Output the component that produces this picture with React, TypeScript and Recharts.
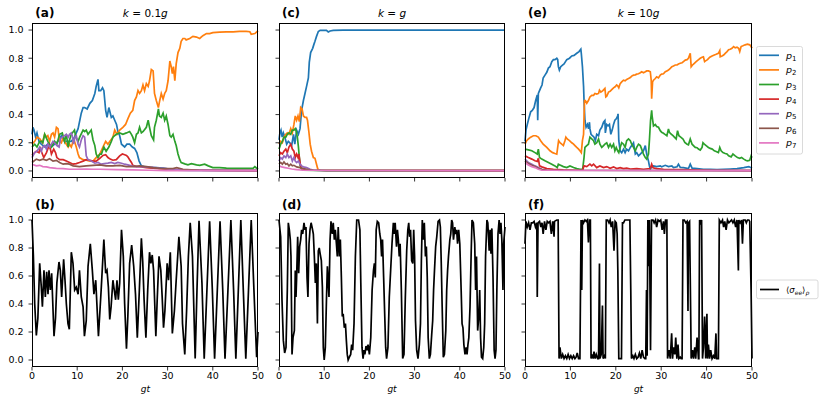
import { LineChart, Line, XAxis, YAxis } from 'recharts';

type Pair = number[];

const xTicks = [0, 10, 20, 30, 40, 50];
const yTicks = [0, 0.2, 0.4, 0.6, 0.8, 1.0];
const probNames = ['1', '2', '3', '4', '5', '6', '7'];
const probColors = ['#1f77b4', '#ff7f0e', '#2ca02c', '#d62728', '#9467bd', '#8c564b', '#e377c2'];

// (a) k = 0.1g
const a_p1: Pair[] = [[0,.26],[0.2,.31],[0.44,.29],[0.8,.24],[1.1,.27],[1.55,.21],[2.06,.19],[2.8,.17],[3.5,.19],[4.3,.17],[5.0,.19],[5.75,.21],[6.5,.25],[7.2,.21],[8.0,.21],[8.7,.21],[9.4,.24],[10.2,.30],[10.9,.41],[11.3,.45],[11.65,.45],[12.2,.44],[12.8,.48],[13.35,.50],[13.9,.55],[14.2,.60],[14.6,.65],[14.8,.57],[15.2,.57],[15.6,.59],[15.9,.57],[16.3,.43],[16.6,.38],[17.0,.45],[17.55,.38],[17.9,.39],[18.3,.36],[18.7,.33],[19.0,.28],[19.4,.25],[19.8,.19],[20.5,.17],[21.0,.19],[21.6,.19],[22.2,.17],[22.7,.16],[23.2,.13],[23.7,.07],[24.2,.036],[24.9,.03],[26,.025],[27.5,.024],[29,.02],[30.5,.012],[32,.006],[35,.004],[50,.003]];
const a_p2: Pair[] = [[0,.19],[0.6,.21],[1.1,.24],[1.7,.23],[2.3,.20],[2.8,.26],[3.2,.24],[3.5,.25],[3.9,.21],[4.3,.26],[4.65,.27],[5.0,.24],[5.4,.31],[5.75,.30],[6.1,.21],[6.5,.20],[6.9,.24],[7.2,.21],[7.6,.19],[8.0,.17],[8.3,.19],[8.7,.17],[9.1,.21],[9.4,.21],[9.8,.17],[10.2,.12],[10.5,.095],[11.3,.08],[12.0,.076],[12.8,.07],[13.5,.07],[14.2,.095],[15,.12],[15.7,.17],[16.3,.21],[16.8,.19],[17.2,.21],[17.9,.24],[18.3,.29],[18.8,.26],[19.4,.29],[20.1,.31],[20.7,.33],[21.2,.37],[21.75,.41],[22.3,.43],[22.7,.50],[23.1,.525],[23.45,.57],[23.8,.55],[24.2,.57],[24.55,.61],[24.9,.57],[25.3,.62],[25.7,.60],[26.0,.64],[26.4,.72],[26.8,.71],[27.1,.55],[27.5,.50],[27.96,.45],[28.2,.49],[28.6,.55],[29.0,.51],[29.35,.55],[29.7,.57],[30.1,.64],[30.5,.78],[30.8,.74],[31.05,.69],[31.3,.74],[31.6,.64],[31.9,.76],[32.3,.84],[32.7,.87],[33.0,.92],[33.4,.94],[33.8,.94],[34.1,.93],[34.9,.94],[35.6,.955],[36.4,.95],[37.1,.94],[37.8,.96],[38.6,.975],[39.3,.975],[40,.982],[41.5,.985],[43,.987],[44.5,.987],[45.9,.99],[47.4,.99],[48.2,.988],[48.5,.97],[49.3,.975],[50,.995]];
const a_p3: Pair[] = [[0,.17],[0.6,.19],[1.1,.17],[1.7,.21],[2.1,.21],[2.4,.20],[2.8,.26],[3.5,.21],[4.3,.17],[5.0,.21],[5.5,.19],[6.1,.26],[6.7,.27],[7.2,.21],[7.6,.26],[8.0,.17],[8.3,.22],[8.7,.26],[9.4,.29],[9.7,.24],[10.2,.21],[10.55,.24],[11.3,.29],[11.65,.28],[12.0,.29],[12.4,.26],[13.1,.29],[13.5,.22],[13.9,.18],[14.2,.12],[14.6,.095],[15.0,.12],[15.35,.12],[15.9,.17],[16.4,.14],[17.0,.17],[17.55,.21],[17.9,.24],[18.65,.26],[19.4,.27],[20.1,.26],[20.9,.27],[21.6,.28],[22.0,.26],[22.3,.24],[22.7,.20],[23.1,.26],[23.45,.27],[23.8,.31],[24.2,.27],[24.6,.28],[25.3,.31],[25.7,.36],[26.0,.31],[26.4,.25],[26.9,.22],[27.1,.31],[27.5,.36],[27.97,.44],[28.2,.39],[28.6,.38],[29.0,.41],[29.35,.36],[29.7,.39],[30.1,.33],[30.5,.25],[30.8,.24],[31.2,.26],[31.6,.21],[31.9,.18],[32.3,.12],[32.7,.08],[33.0,.06],[33.8,.05],[34.5,.043],[35.25,.052],[36.4,.043],[37.1,.04],[38.2,.048],[39.0,.036],[40,.024],[41.5,.024],[43,.02],[44.5,.018],[46,.018],[47.4,.018],[48.9,.018],[49.3,.03],[50,.012]];
const a_p4: Pair[] = [[0,.11],[0.6,.13],[0.96,.14],[1.55,.13],[1.85,.17],[2.06,.14],[2.6,.095],[3.2,.13],[3.76,.18],[4.06,.155],[4.3,.12],[4.8,.155],[5.2,.13],[5.5,.095],[6.1,.08],[6.9,.08],[7.6,.07],[8.3,.06],[9.1,.048],[9.8,.052],[10.5,.06],[11.3,.07],[12.0,.08],[12.8,.076],[13.5,.07],[14.2,.07],[15,.09],[15.7,.11],[16.3,.115],[16.8,.095],[17.3,.084],[17.9,.076],[18.65,.08],[19.4,.107],[20.0,.12],[20.5,.115],[20.9,.11],[21.2,.10],[21.6,.08],[22.0,.06],[22.3,.04],[23.1,.031],[23.8,.03],[25.3,.024],[26.8,.02],[28.2,.017],[29.7,.012],[31.2,.01],[33.4,.007],[37,.005],[50,.002]];
const a_p5: Pair[] = [[0,.095],[0.6,.13],[1.1,.14],[1.7,.17],[2.06,.14],[2.4,.17],[2.8,.18],[3.2,.155],[3.5,.19],[3.9,.17],[4.3,.19],[4.65,.21],[5.0,.20],[5.5,.18],[6.0,.17],[6.3,.23],[6.7,.24],[7.2,.25],[7.6,.26],[8.0,.24],[8.3,.26],[8.7,.27],[8.9,.25],[9.2,.19],[9.5,.24],[9.8,.25],[10.2,.19],[10.5,.17],[10.9,.22],[11.3,.25],[11.65,.24],[12.0,.107],[12.4,.08],[13.1,.07],[13.9,.055],[14.6,.06],[15.3,.048],[16,.052],[16.8,.055],[17.55,.06],[18.3,.052],[19,.06],[19.8,.055],[20.5,.048],[21.2,.043],[22,.036],[22.7,.031],[23.8,.031],[25.3,.029],[26.8,.026],[28.2,.021],[29.7,.017],[31.2,.01],[33.4,.007],[37,.005],[50,.002]];
const a_p6: Pair[] = [[0,.06],[0.96,.084],[1.7,.076],[2.4,.084],[3.2,.076],[3.9,.086],[4.65,.07],[5.4,.075],[6.1,.06],[6.9,.048],[7.6,.052],[8.3,.048],[9.1,.036],[10.5,.031],[12,.036],[13.5,.04],[15,.043],[16.4,.036],[17.9,.036],[19.4,.04],[20.9,.031],[22.3,.031],[23.8,.036],[25.3,.031],[26.8,.024],[28.2,.019],[29.7,.017],[31.2,.017],[32,.024],[33.4,.012],[37,.005],[50,.002]];
const a_p7: Pair[] = [[0,.048],[0.96,.036],[1.7,.04],[2.4,.031],[3.2,.029],[3.9,.024],[5.4,.019],[6.9,.017],[8.3,.012],[9.8,.012],[12,.014],[13.5,.012],[15,.012],[18.65,.01],[22.3,.007],[26,.005],[29.7,.003],[50,.002]];

// (c) k = g
const c_p1: Pair[] = [[0,.22],[0.2,.27],[0.44,.29],[0.7,.24],[0.96,.27],[1.3,.24],[1.7,.19],[2.06,.21],[2.4,.20],[2.8,.18],[3.2,.26],[3.5,.19],[3.9,.29],[4.3,.26],[4.65,.30],[5.0,.43],[5.4,.50],[5.75,.55],[6.1,.60],[6.5,.66],[6.7,.77],[7.0,.84],[7.45,.87],[7.74,.90],[7.96,.92],[8.3,.955],[8.7,.99],[9.1,.998],[9.8,.997],[10.5,.997],[10.9,.986],[11.3,.993],[12,.998],[14.2,1.0],[50,1.0]];
const c_p2: Pair[] = [[0,.19],[0.37,.21],[0.74,.20],[1.1,.24],[1.5,.26],[1.84,.27],[2.2,.26],[2.6,.30],[2.95,.27],[3.3,.33],[3.6,.39],[3.9,.36],[4.2,.39],[4.5,.35],[4.8,.45],[5.1,.44],[5.4,.39],[5.75,.38],[6.1,.38],[6.3,.36],[6.6,.28],[6.9,.19],[7.2,.14],[7.6,.095],[7.96,.09],[8.3,.048],[8.6,.012],[9.1,.005],[10.5,.003],[50,.002]];
const c_p3: Pair[] = [[0,.155],[0.37,.19],[0.74,.21],[1.1,.24],[1.5,.24],[1.84,.26],[2.2,.27],[2.6,.26],[2.95,.29],[3.3,.29],[3.6,.30],[3.83,.28],[4.06,.24],[4.3,.17],[4.5,.095],[4.7,.036],[5.0,.012],[5.4,.005],[10.5,.003],[50,.002]];
const c_p4: Pair[] = [[0,.107],[0.37,.13],[0.74,.12],[1.1,.14],[1.5,.155],[1.84,.13],[2.2,.17],[2.6,.19],[2.95,.155],[3.3,.14],[3.6,.095],[3.9,.12],[4.2,.095],[4.4,.12],[4.65,.06],[4.87,.024],[5.2,.012],[6.1,.005],[50,.002]];
const c_p5: Pair[] = [[0,.07],[0.37,.095],[0.74,.084],[1.1,.107],[1.5,.095],[1.84,.12],[2.2,.095],[2.6,.107],[2.95,.07],[3.3,.095],[3.6,.07],[3.9,.06],[4.3,.07],[4.65,.048],[5,.036],[5.4,.029],[6.1,.024],[6.9,.012],[7.6,.006],[10.5,.003],[50,.002]];
const c_p6: Pair[] = [[0,.048],[0.37,.06],[0.74,.048],[1.1,.064],[1.5,.048],[1.84,.052],[2.2,.036],[2.6,.048],[2.95,.036],[3.3,.04],[3.9,.029],[4.65,.024],[5.4,.017],[6.5,.01],[7.6,.005],[50,.002]];
const c_p7: Pair[] = [[0,.036],[0.6,.029],[1.3,.024],[2.06,.019],[2.8,.014],[3.9,.01],[5.4,.005],[50,.002]];

// (e) k = 10g
const e_p1: Pair[] = [[0,.21],[0.22,.29],[0.5,.33],[0.9,.38],[1.25,.42],[1.6,.43],[2.0,.45],[2.35,.50],[2.7,.54],[2.8,.36],[2.94,.55],[3.2,.57],[3.45,.59],[3.75,.61],[4.0,.66],[4.4,.68],[4.8,.70],[5.15,.73],[5.5,.74],[5.9,.776],[6.25,.79],[6.6,.79],[7.0,.80],[7.2,.79],[7.35,.74],[7.57,.716],[7.87,.74],[8.2,.75],[8.6,.76],[9.2,.79],[9.8,.80],[10.3,.816],[10.8,.82],[11.4,.835],[11.9,.847],[12.3,.864],[12.4,.835],[12.65,.74],[12.9,.60],[13.0,.50],[13.2,.36],[13.45,.31],[13.75,.33],[14.0,.30],[14.2,.346],[14.3,.30],[14.55,.26],[14.85,.25],[15.2,.24],[15.5,.215],[15.8,.26],[16.2,.25],[16.5,.29],[16.9,.31],[17.3,.346],[17.6,.358],[17.7,.27],[18.0,.33],[18.3,.32],[18.6,.33],[18.9,.26],[19.2,.29],[19.5,.33],[19.8,.36],[20.1,.37],[20.4,.39],[20.5,.405],[20.66,.215],[20.96,.143],[21.3,.13],[21.7,.155],[22.05,.13],[22.4,.155],[22.8,.143],[23.2,.167],[23.5,.18],[23.9,.20],[24.3,.12],[24.6,.13],[25.0,.107],[25.4,.12],[25.7,.13],[26.1,.143],[26.5,.18],[26.8,.12],[27.2,.07],[27.4,.036],[27.6,.012],[27.9,.029],[28.3,.036],[29.0,.031],[29.8,.036],[30.1,.029],[30.9,.04],[31.6,.031],[32.35,.036],[32.7,.024],[33.5,.03],[33.8,.048],[34.2,.025],[34.9,.024],[36.0,.017],[36.4,.048],[36.8,.02],[37.9,.017],[39.3,.012],[40.8,.012],[42.3,.01],[43.75,.012],[45.2,.014],[46.7,.017],[48.2,.024],[49.3,.031],[50,.019]];
const e_p2: Pair[] = [[0,.19],[0.37,.215],[0.74,.227],[1.25,.24],[1.84,.25],[2.4,.25],[2.94,.24],[3.45,.215],[4.0,.19],[4.8,.167],[5.5,.143],[6.1,.13],[6.6,.124],[7.0,.12],[7.2,.167],[7.4,.215],[7.7,.20],[8.1,.19],[8.45,.18],[8.8,.215],[9.0,.24],[9.3,.227],[9.8,.215],[10.3,.20],[10.7,.19],[11.0,.18],[11.4,.167],[11.8,.155],[12.1,.143],[12.4,.13],[12.65,.215],[12.9,.26],[13.1,.50],[13.3,.50],[13.6,.48],[13.97,.50],[14.3,.525],[14.7,.537],[15.1,.537],[15.4,.55],[15.8,.545],[16.2,.55],[16.4,.573],[16.7,.56],[17.1,.568],[17.6,.585],[17.8,.525],[18.0,.53],[18.4,.56],[18.75,.565],[19.1,.577],[19.5,.59],[19.85,.597],[20.2,.61],[20.4,.605],[20.66,.59],[20.96,.62],[21.3,.632],[21.7,.644],[22.05,.64],[22.4,.65],[22.8,.656],[23.2,.663],[23.5,.673],[23.9,.68],[24.3,.682],[24.6,.687],[25.0,.69],[25.4,.697],[25.7,.704],[26.1,.697],[26.5,.704],[26.8,.71],[27.2,.71],[27.6,.704],[27.8,.644],[27.9,.513],[28.1,.632],[28.3,.644],[28.7,.656],[29.0,.668],[29.4,.66],[29.8,.68],[30.1,.687],[30.5,.69],[30.9,.704],[31.25,.71],[31.6,.716],[32.0,.728],[32.35,.74],[32.7,.745],[33.1,.752],[33.5,.752],[33.8,.759],[34.2,.764],[34.6,.768],[34.9,.776],[35.3,.787],[35.7,.79],[36.0,.80],[36.4,.835],[36.6,.74],[36.9,.752],[37.3,.764],[37.7,.776],[38.1,.787],[38.6,.80],[39.0,.807],[39.3,.81],[39.56,.776],[39.85,.783],[40.2,.79],[40.7,.807],[41.2,.816],[41.7,.823],[42.1,.828],[42.6,.835],[42.9,.854],[43.0,.81],[43.4,.816],[43.75,.823],[44.1,.835],[44.5,.847],[44.85,.86],[45.2,.864],[45.6,.871],[45.95,.883],[46.3,.874],[46.7,.878],[47.06,.871],[47.3,.847],[47.6,.883],[48.0,.888],[48.5,.895],[49.0,.90],[49.5,.895],[49.8,.883],[50,.871]];
const e_p3: Pair[] = [[0,.155],[0.74,.15],[1.5,.143],[2.2,.13],[2.7,.12],[2.94,.155],[3.2,.095],[3.7,.084],[4.4,.072],[5.15,.06],[5.9,.048],[6.6,.036],[7.1,.024],[7.35,.048],[7.7,.043],[8.45,.031],[9.2,.024],[9.9,.036],[10.7,.024],[11.4,.017],[12.1,.012],[12.7,.012],[13.0,.095],[13.2,.167],[13.6,.18],[13.97,.19],[14.3,.24],[14.7,.227],[15.1,.215],[15.4,.19],[15.8,.20],[16.2,.227],[16.5,.19],[16.9,.167],[17.3,.18],[17.6,.19],[18.0,.20],[18.4,.167],[18.75,.19],[19.1,.167],[19.5,.19],[19.8,.143],[20.1,.167],[20.4,.143],[20.66,.13],[20.96,.167],[21.3,.20],[21.7,.19],[22.05,.167],[22.4,.215],[22.8,.227],[23.2,.215],[23.5,.19],[23.9,.167],[24.3,.143],[24.6,.167],[25.0,.19],[25.4,.18],[25.7,.155],[26.1,.12],[26.5,.095],[26.8,.084],[27.2,.12],[27.4,.215],[27.65,.358],[27.9,.43],[28.0,.39],[28.3,.32],[28.7,.33],[29.0,.315],[29.4,.31],[29.8,.286],[30.1,.274],[30.5,.267],[30.9,.258],[31.25,.25],[31.6,.298],[31.8,.274],[32.2,.262],[32.6,.25],[32.9,.24],[33.3,.227],[33.6,.286],[33.9,.25],[34.3,.24],[34.8,.227],[35.2,.203],[35.7,.19],[36.0,.186],[36.4,.227],[36.8,.19],[37.1,.18],[37.5,.167],[37.9,.165],[38.2,.155],[38.6,.148],[39.0,.167],[39.2,.20],[39.5,.19],[39.9,.18],[40.4,.167],[40.8,.16],[41.25,.155],[41.7,.143],[42.1,.138],[42.6,.13],[42.9,.167],[43.2,.143],[43.6,.13],[44.1,.124],[44.5,.12],[44.85,.107],[45.4,.10],[45.8,.12],[46.3,.107],[46.8,.095],[47.3,.09],[47.7,.095],[48.2,.084],[48.6,.076],[49.0,.072],[49.5,.076],[49.8,.107],[50,.095]];
const e_p4: Pair[] = [[0,.107],[0.74,.095],[1.5,.084],[2.2,.072],[2.7,.067],[2.94,.09],[3.2,.036],[3.7,.029],[4.8,.017],[6.25,.012],[8.45,.007],[11.4,.005],[12.7,.006],[13.0,.036],[13.6,.031],[14.3,.048],[14.7,.036],[15.1,.048],[15.8,.024],[16.5,.036],[17.3,.024],[18.0,.031],[18.75,.019],[19.5,.029],[20.2,.017],[20.96,.024],[21.7,.017],[22.4,.02],[23.2,.014],[24.6,.017],[26.1,.012],[27.6,.017],[27.9,.048],[28.2,.022],[29.0,.017],[30.5,.012],[33.5,.01],[37.1,.007],[40.8,.005],[50,.003]];
const e_p5: Pair[] = [[0,.084],[0.74,.06],[1.5,.048],[2.2,.036],[2.94,.024],[3.7,.012],[4.8,.005],[50,.002]];
const e_p6: Pair[] = [[0,.072],[0.74,.052],[1.5,.04],[2.2,.031],[2.94,.019],[3.7,.01],[4.8,.005],[50,.002]];
const e_p7: Pair[] = [[0,.06],[0.74,.043],[1.5,.031],[2.2,.024],[2.94,.012],[3.7,.005],[50,.002]];

// (b) (d) (f) <sigma_ee>
const b_see: Pair[] = [[0,1.0],[0.3,.75],[0.6,.4],[0.96,.175],[1.3,.3],[1.7,.69],[2.06,.52],[2.3,.38],[2.65,.64],[2.95,.45],[3.25,.63],[3.54,.47],[3.76,.64],[4.06,.5],[4.35,.62],[4.87,.17],[5.2,.30],[5.5,.55],[5.97,.70],[6.27,.64],[6.56,.45],[7.0,.72],[7.3,.57],[7.6,.40],[7.96,.26],[8.26,.22],[8.7,.77],[9.07,.69],[9.44,.50],[9.8,.52],[10.2,.47],[10.5,.64],[10.9,.45],[11.3,.38],[11.6,.17],[12.0,.28],[12.4,.67],[12.9,.83],[13.35,.64],[13.7,.47],[14.1,.57],[14.7,.17],[15.3,.50],[15.9,.86],[16.3,.62],[16.6,.64],[16.9,.52],[17.2,.29],[17.5,.38],[17.9,.57],[18.2,.50],[18.5,.43],[18.8,.57],[19.1,.43],[19.4,.55],[19.8,.93],[20.2,.74],[20.5,.40],[20.9,.08],[21.2,.31],[21.6,.69],[22.05,.82],[22.5,.67],[22.9,.47],[23.3,.16],[23.75,.50],[24.2,.87],[24.5,.70],[24.8,.43],[25.2,.16],[25.6,.50],[26.0,.77],[26.3,.69],[26.6,.75],[26.9,.64],[27.4,.17],[27.7,.43],[28.1,.74],[28.5,.64],[28.8,.45],[29.1,.23],[29.4,.35],[29.9,.69],[30.2,.57],[30.6,.77],[31.05,.19],[31.5,.35],[31.9,.57],[32.5,.88],[33.0,.67],[33.3,.26],[33.8,.04],[34.2,.35],[34.6,.74],[35.0,.98],[35.5,.74],[36.1,.01],[36.5,.5],[36.95,.995],[37.6,.55],[38.1,.01],[38.7,.5],[39.3,.99],[39.9,.5],[40.4,.01],[41.0,.5],[41.6,.99],[42.2,.5],[42.7,.01],[43.35,.5],[44.0,1.0],[44.6,.5],[45.1,.01],[45.65,.5],[46.2,1.0],[46.75,.5],[47.3,.01],[47.9,.5],[48.5,1.0],[49.1,.5],[49.7,.02],[50,.2]];
const d_see: Pair[] = [[0,1.0],[0.37,.88],[0.66,.43],[0.96,.14],[1.25,.05],[1.55,.09],[1.84,.5],[2.06,.98],[2.29,.93],[2.5,.86],[2.65,.74],[2.88,.04],[3.1,.16],[3.4,.21],[3.6,.64],[3.76,.45],[3.9,.59],[4.13,.88],[4.35,.62],[4.57,.81],[4.8,.86],[5.0,.93],[5.24,.90],[5.53,.98],[5.75,.93],[5.97,.95],[6.2,.59],[6.4,.45],[6.64,.83],[6.86,.93],[7.1,.98],[7.37,.94],[7.6,.90],[7.82,.74],[8.04,.55],[8.26,.69],[8.5,.26],[8.7,.78],[8.9,.80],[9.1,.76],[9.37,.71],[9.6,.52],[9.8,.09],[10.0,0],[10.25,.09],[10.5,.43],[10.7,.67],[10.84,.59],[11.06,.45],[11.3,.86],[11.5,.99],[11.8,.90],[12.0,.98],[12.24,.86],[12.46,.93],[12.7,.83],[12.9,.74],[13.1,.95],[13.35,.74],[13.57,.86],[13.8,.59],[14.0,.31],[14.2,.33],[14.45,.23],[14.7,.26],[14.9,.14],[15.1,.04],[15.3,0],[15.56,.02],[15.86,.04],[16.07,.11],[16.3,.07],[16.6,.26],[16.9,.74],[17.2,1.0],[17.6,1.0],[17.9,.93],[18.1,.55],[18.36,.09],[18.6,.01],[18.8,.07],[19.0,.04],[19.25,.10],[19.5,.07],[19.7,.11],[20.0,.04],[20.3,.16],[20.6,.5],[20.9,.64],[21.1,.69],[21.3,.59],[21.5,.93],[21.75,.99],[22.05,.98],[22.3,.90],[22.5,.86],[22.7,.74],[22.9,.86],[23.15,.59],[23.4,.31],[23.6,.09],[23.8,.01],[24.1,.09],[24.4,.45],[24.7,.64],[25.0,.83],[25.3,.98],[25.5,.90],[25.7,.98],[26.0,.81],[26.2,.93],[26.4,.86],[26.6,.74],[26.8,.83],[27.07,.5],[27.36,.01],[27.65,.04],[27.95,.45],[28.25,.78],[28.5,.93],[28.7,.98],[28.9,.88],[29.1,.93],[29.35,.71],[29.6,.69],[29.8,.93],[30.0,.74],[30.2,.28],[30.46,.07],[30.75,.01],[31.05,.11],[31.3,.26],[31.5,.71],[31.7,1.0],[31.9,.86],[32.15,.98],[32.4,.74],[32.6,.81],[32.8,.59],[33.0,.16],[33.26,.01],[33.5,.04],[33.8,.19],[34.0,.28],[34.2,.5],[34.4,.64],[34.66,.81],[34.9,.88],[35.2,.99],[35.5,1.0],[35.7,.95],[35.9,.69],[36.1,.38],[36.35,.02],[36.6,.04],[36.9,.21],[37.1,.5],[37.3,.64],[37.5,.74],[37.8,.86],[38.0,.90],[38.2,1.0],[38.4,.98],[38.6,.86],[38.9,.95],[39.1,.90],[39.3,.93],[39.5,.83],[39.75,.93],[40.0,.83],[40.3,.5],[40.5,.26],[40.7,.23],[40.9,.11],[41.15,.04],[41.4,.09],[41.6,.04],[41.8,.11],[42.0,.16],[42.26,.38],[42.5,.74],[42.7,1.0],[43.0,.98],[43.3,.83],[43.5,.5],[43.7,.74],[43.95,.21],[44.2,.31],[44.4,.5],[44.6,.16],[44.8,.02],[45.06,.01],[45.3,.09],[45.5,.26],[45.7,.74],[46.0,1.0],[46.2,.98],[46.5,.78],[46.7,.93],[46.9,.76],[47.1,.94],[47.35,.59],[47.6,.07],[47.8,.01],[48.0,.07],[48.2,.5],[48.45,.90],[48.7,1.0],[48.9,.90],[49.1,.98],[49.3,.86],[49.55,.5],[49.7,.83],[50,.95]];
const f_see: Pair[] = [[0,.83],[0.2,.99],[0.5,.95],[0.8,.98],[1.1,.93],[1.4,.98],[1.7,.98],[2.0,.99],[2.3,.95],[2.6,.98],[2.7,.45],[2.87,.98],[3.2,.99],[3.5,.95],[3.75,.98],[4.0,.90],[4.3,.99],[4.5,.95],[4.6,.93],[4.9,.99],[5.2,.98],[5.5,.99],[5.8,.90],[6.1,.99],[6.4,.88],[6.5,.99],[7.0,1.0],[7.3,1.0],[7.5,.01],[7.7,.09],[8.0,.01],[8.3,.04],[8.6,.01],[8.9,.03],[9.2,.01],[9.5,.04],[9.8,.01],[10.1,.03],[10.4,.01],[10.7,.03],[11.0,.01],[11.25,.02],[11.5,.05],[11.8,.01],[12.1,.01],[12.35,1.0],[12.5,.5],[12.65,1.0],[12.9,.98],[13.2,1.0],[13.5,.99],[13.75,1.0],[13.97,.84],[14.2,1.0],[14.4,1.0],[14.55,.01],[14.8,.04],[15.0,.01],[15.2,.06],[15.45,.01],[15.7,.04],[16.0,.01],[16.2,.01],[16.4,.69],[16.5,.01],[16.8,.04],[17.06,.39],[17.2,.01],[17.5,.03],[17.7,.01],[17.9,1.0],[18.2,1.0],[18.5,.98],[18.75,1.0],[19.0,.95],[19.3,.99],[19.6,.78],[19.85,.99],[20.1,.98],[20.3,.90],[20.45,.64],[20.66,.01],[20.96,.01],[21.25,.01],[21.47,.98],[21.7,.98],[22.0,1.0],[22.4,1.0],[22.8,1.0],[23.1,1.0],[23.3,.5],[23.45,.01],[23.75,.03],[24.0,.01],[24.3,.04],[24.6,.01],[24.9,.02],[25.2,.05],[25.5,.01],[25.8,.07],[26.1,.02],[26.4,.01],[26.6,.01],[26.76,.5],[26.9,.03],[27.06,1.0],[27.3,.67],[27.4,1.0],[27.65,.07],[27.87,1.0],[28.2,1.0],[28.45,.98],[28.75,1.0],[29.0,.95],[29.3,1.0],[29.6,.99],[29.9,1.0],[30.2,.93],[30.5,.99],[30.7,.90],[30.95,1.0],[31.25,1.0],[31.4,.01],[31.7,.07],[32.0,.01],[32.3,.19],[32.5,.01],[32.7,.09],[33.0,.04],[33.2,.16],[33.45,.01],[33.7,.11],[33.9,.01],[34.2,.02],[34.4,.01],[34.6,.01],[34.8,1.0],[35.1,1.0],[35.4,.98],[35.7,.99],[35.9,.35],[36.0,.98],[36.25,.99],[36.5,.31],[36.6,.01],[36.9,.07],[37.1,.01],[37.4,.09],[37.6,.01],[37.9,.16],[38.2,.01],[38.3,.01],[38.46,1.0],[38.7,.98],[38.9,1.0],[39.1,.01],[39.3,.09],[39.56,.31],[39.8,.01],[39.9,.16],[40.07,.33],[40.2,.01],[40.4,.11],[40.66,.01],[40.9,.07],[41.2,.01],[41.5,.03],[41.8,.01],[42.06,.19],[42.2,.01],[42.6,.01],[42.8,1.0],[43.16,.98],[43.5,1.0],[43.75,.95],[44.0,.99],[44.3,.93],[44.6,1.0],[44.9,.98],[45.2,.99],[45.5,1.0],[45.8,.98],[46.1,1.0],[46.4,.95],[46.7,1.0],[47.0,.64],[47.1,1.0],[47.4,.98],[47.7,1.0],[47.9,.83],[48.1,1.0],[48.5,1.0],[48.75,.98],[49.0,1.0],[49.3,1.0],[49.5,.99],[49.8,.5],[50,.01]];

const pts = (a: Pair[]) => a.map(([t, v]) => ({ t, v }));

const FONT = 'DejaVu Sans, sans-serif';
const Y_W = 30;
const X_H = 22;
const R_PAD = 12;
const colLeft = [32.3, 279, 525];
const colWidth = [226, 226, 227];
const rowTop = [23, 213];
const rowHeight = [155, 154];

interface PanelProps {
  col: number;
  row: number;
  series: { data: Pair[]; color: string; name: string }[];
}

function Panel({ col, row, series }: PanelProps) {
  const w = colWidth[col];
  const h = rowHeight[row];
  const showX = row === 1;
  const showY = col === 0;
  return (
    <div style={{ position: 'absolute', left: colLeft[col] - Y_W, top: rowTop[row] }}>
      <LineChart width={w + Y_W + R_PAD} height={h + X_H} margin={{ top: 0, right: R_PAD, bottom: 0, left: 0 }}>
        <XAxis
          type="number" dataKey="t" domain={[0, 50]} ticks={xTicks} interval={0}
          height={X_H} axisLine={false} tickSize={3.5} tickMargin={1.5}
          tickLine={{ stroke: '#000', strokeWidth: 0.8 }}
          tick={{ fontSize: 9.5, fill: '#000', fontFamily: FONT }}
          tickFormatter={showX ? (v: number) => String(v) : () => ''}
        />
        <YAxis
          type="number" domain={[-0.05, 1.05]} ticks={yTicks} interval={0}
          width={Y_W} axisLine={false} tickSize={3.5} tickMargin={5}
          tickLine={{ stroke: '#000', strokeWidth: 0.8 }}
          tick={{ fontSize: 9.5, fill: '#000', fontFamily: FONT }}
          tickFormatter={showY ? (v: number) => v.toFixed(1) : () => ''}
        />
        {series.map((s) => (
          <Line
            key={s.name} name={s.name} data={pts(s.data)} dataKey="v" type="linear"
            stroke={s.color} strokeWidth={1.7} dot={false} isAnimationActive={false}
          />
        ))}
      </LineChart>
      <div style={{ position: 'absolute', left: Y_W, top: 0, width: w, height: h, border: '1px solid #000', boxSizing: 'border-box' }} />
    </div>
  );
}

const probSets = [
  [a_p1, a_p2, a_p3, a_p4, a_p5, a_p6, a_p7],
  [c_p1, c_p2, c_p3, c_p4, c_p5, c_p6, c_p7],
  [e_p1, e_p2, e_p3, e_p4, e_p5, e_p6, e_p7],
];
const sigmaSets = [b_see, d_see, f_see];
const topLabels = ['(a)', '(c)', '(e)'];
const bottomLabels = ['(b)', '(d)', '(f)'];
const kValues = ['0.1', '', '10'];

export default function App() {
  return (
    <div style={{ position: 'absolute', left: 0, top: 0, width: 830, height: 400, background: '#fff', fontFamily: FONT }}>
      {probSets.map((set, c) => (
        <Panel key={'t' + c} col={c} row={0}
          series={set.map((d, i) => ({ data: d, color: probColors[i], name: 'p' + probNames[i] }))} />
      ))}
      {sigmaSets.map((d, c) => (
        <Panel key={'b' + c} col={c} row={1} series={[{ data: d, color: '#000', name: 'see' }]} />
      ))}
      <svg width={830} height={400} style={{ position: 'absolute', left: 0, top: 0, pointerEvents: 'none' }} fontFamily={FONT}>
        {colLeft.map((x, c) => (
          <g key={c}>
            <text x={x + 3} y={16.5} fontSize={12} fontWeight="bold">{topLabels[c]}</text>
            <text x={x + colWidth[c] / 2} y={16.5} fontSize={10.5} textAnchor="middle">
              <tspan fontStyle="italic">k</tspan>
              {' = ' + kValues[c]}
              <tspan fontStyle="italic">g</tspan>
            </text>
            <text x={x + 3} y={208.5} fontSize={12} fontWeight="bold">{bottomLabels[c]}</text>
            <text x={x + colWidth[c] / 2} y={392} fontSize={9} fontStyle="italic" textAnchor="middle">gt</text>
          </g>
        ))}
        <rect x={756.5} y={46.5} width={46} height={107.5} rx={2} fill="#fff" fillOpacity={0.8} stroke="#d0d0d0" strokeWidth={0.8} />
        {probNames.map((n, i) => (
          <g key={n}>
            <line x1={759} x2={779} y1={55.3 + i * 14.6} y2={55.3 + i * 14.6} stroke={probColors[i]} strokeWidth={1.7} />
            <text x={786} y={55.3 + i * 14.6 + 3.3} fontSize={9.5}>
              <tspan fontStyle="italic">p</tspan>
              <tspan fontSize={7} dy={2}>{n}</tspan>
            </text>
          </g>
        ))}
        <rect x={756.5} y={280} width={61.5} height={18.7} rx={2} fill="#fff" fillOpacity={0.8} stroke="#d0d0d0" strokeWidth={0.8} />
        <line x1={760} x2={779} y1={289.5} y2={289.5} stroke="#000" strokeWidth={1.7} />
        <text x={786} y={292.5} fontSize={8.5}>
          {'⟨'}<tspan fontStyle="italic">σ</tspan>
          <tspan fontSize={6} dy={2} fontStyle="italic">ee</tspan>
          <tspan dy={-2}>{'⟩'}</tspan>
          <tspan fontSize={6} dy={2} fontStyle="italic">ρ</tspan>
        </text>
      </svg>
    </div>
  );
}
